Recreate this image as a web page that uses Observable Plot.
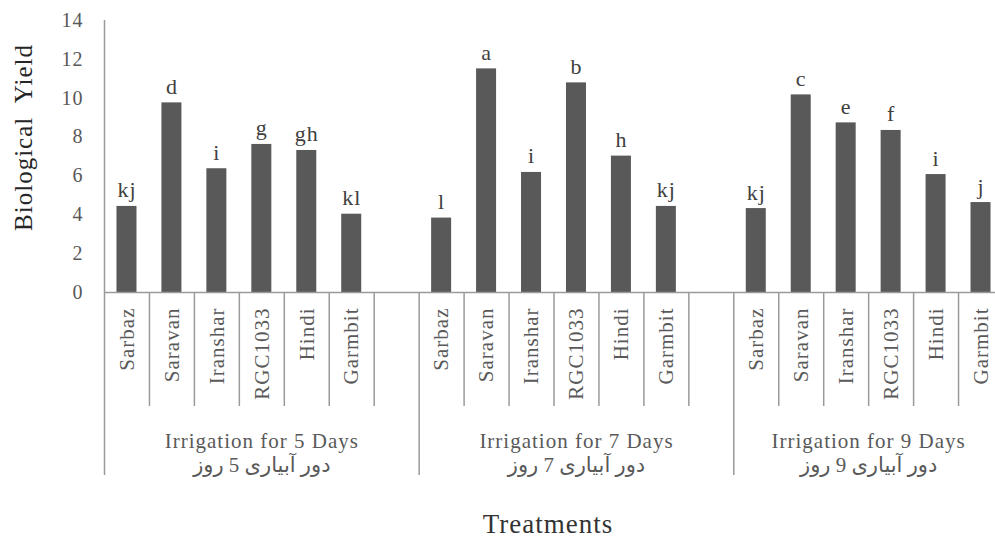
<!DOCTYPE html>
<html><head><meta charset="utf-8">
<script src="https://cdn.jsdelivr.net/npm/d3@7"></script>
<script src="https://cdn.jsdelivr.net/npm/@observablehq/plot@0.6"></script>
<style>body{margin:0;overflow:hidden;background:#fff}</style>
</head><body><div id="chart"></div>
<script>
const cultivars = ["Sarbaz","Saravan","Iranshar","RGC1033","Hindi","Garmbit"];
const groupKeys = ["5","7","9"];
const groupsEn = ["Irrigation for 5 Days","Irrigation for 7 Days","Irrigation for 9 Days"];
const groupsFa = ["دور آبیاری 5 روز","دور آبیاری 7 روز","دور آبیاری 9 روز"];
const yield5 = [4.43, 9.76, 6.37, 7.62, 7.31, 4.03];
const yield7 = [3.83, 11.51, 6.18, 10.79, 7.02, 4.43];
const yield9 = [4.32, 10.17, 8.73, 8.34, 6.07, 4.63];
const letters5 = ["kj","d","i","g","gh","kl"];
const letters7 = ["l","a","i","b","h","kj"];
const letters9 = ["kj","c","e","f","i","j"];
const yTicks = [0,2,4,6,8,10,12,14];

const values = [yield5, yield7, yield9];
const letters = [letters5, letters7, letters9];

// slots: each group's cultivars, with an empty slot after the first two groups
const slots = [];
const groupStart = [];
const groupCount = [];
groupKeys.forEach((g, gi) => {
  groupStart.push(slots.length);
  cultivars.forEach(c => slots.push(g + "|" + c));
  if (gi < groupKeys.length - 1) slots.push(g + "|");
  groupCount.push(slots.length - groupStart[gi]);
});
const rows = [];
groupKeys.forEach((g, gi) => cultivars.forEach((c, ci) => rows.push({
  slot: g + "|" + c, cultivar: c, value: values[gi][ci], letter: letters[gi][ci]
})));
const groupRows = groupKeys.map((g, gi) => ({
  slot: slots[groupStart[gi]], en: groupsEn[gi], fa: groupsFa[gi], n: groupCount[gi]
}));

const width = 995, height = 537, marginLeft = 104, marginRight = -8, marginTop = 20, marginBottom = 245;
const step = (width - marginLeft - marginRight) / slots.length;
const lineColor = "#9a9a9a";

const startSet = new Set(groupStart.map(i => slots[i]));
const shortRules = slots.filter(s => !startSet.has(s));
const groupRules = groupStart.slice(1).map(i => slots[i]);

const groupLabelMarks = groupRows.flatMap(d => [
  Plot.text([d], {x: "slot", text: "en", frameAnchor: "bottom", lineAnchor: "bottom", dx: (d.n - 1) / 2 * step, dy: 155, fontSize: 21, fill: "#595959", letterSpacing: "1.2px"}),
  Plot.text([d], {x: "slot", text: "fa", frameAnchor: "bottom", lineAnchor: "bottom", dx: (d.n - 1) / 2 * step, dy: 179, fontSize: 21, fill: "#595959", letterSpacing: "0px"})
]);

const chart = Plot.plot({
  width, height, marginLeft, marginRight, marginTop, marginBottom,
  style: {fontFamily: "'Liberation Serif', 'DejaVu Sans', serif", fontSize: "20px", color: "#595959", letterSpacing: "1px", background: "#fff"},
  x: {type: "band", domain: slots, paddingInner: 0.555, paddingOuter: 0.2775, round: false, axis: null},
  y: {domain: [0, 14], ticks: yTicks, tickSize: 0, tickPadding: 21, label: null, tickFormat: d => String(d)},
  marks: [
    Plot.barY(rows, {x: "slot", y: "value", fill: "#595959"}),
    Plot.ruleY([0], {stroke: lineColor, strokeWidth: 1.5}),
    Plot.ruleX([slots[0]], {dx: -step / 2, stroke: lineColor, strokeWidth: 1.5, insetBottom: -183}),
    Plot.ruleX(groupRules, {dx: -step / 2, stroke: lineColor, strokeWidth: 1.5, insetTop: 272, insetBottom: -183}),
    Plot.ruleX(shortRules, {dx: -step / 2, stroke: lineColor, strokeWidth: 1.5, insetTop: 272, insetBottom: -114}),
    Plot.text(rows, {x: "slot", y: "value", text: "letter", lineAnchor: "bottom", dy: -9, fontSize: 22, fill: "#404040"}),
    Plot.text(rows, {x: "slot", y: () => 0, text: "cultivar", rotate: -90, textAnchor: "end", dy: 15, fontSize: 21, fill: "#595959", letterSpacing: "2px"}),
    ...groupLabelMarks,
    Plot.text(["Biological  Yield"], {frameAnchor: "left", textAnchor: "middle", rotate: -90, dx: -81, dy: -19, fontSize: 25, fill: "#262626", letterSpacing: "2px"}),
    Plot.text(["Treatments"], {frameAnchor: "bottom", lineAnchor: "bottom", dx: -6, dy: 240, fontSize: 27, fill: "#333333"})
  ]
});
document.getElementById("chart").append(chart);
</script>
</body></html>
